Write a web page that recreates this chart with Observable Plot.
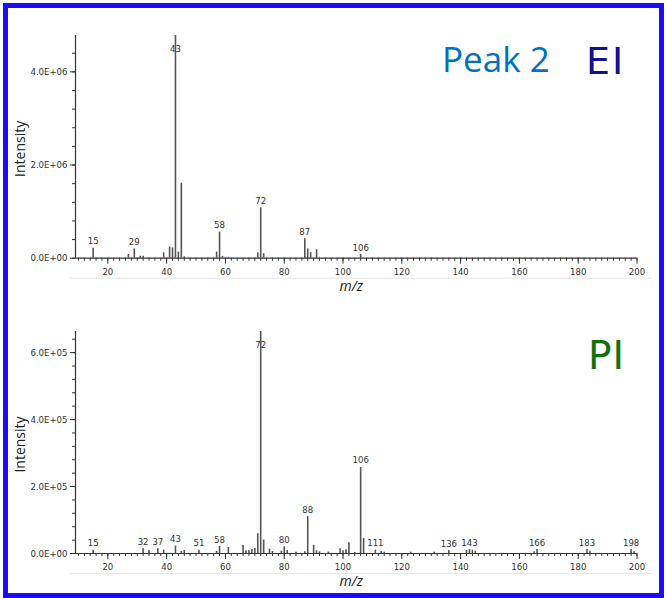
<!DOCTYPE html>
<html>
<head>
<meta charset="utf-8">
<script src="https://cdn.jsdelivr.net/npm/d3@7"></script>
<script src="https://cdn.jsdelivr.net/npm/@observablehq/plot@0.6"></script>
<style>
  html, body { margin: 0; padding: 0; background: white; }
  #wrap { position: relative; width: 667px; height: 598px; overflow: hidden; background: white; }
  .panel { position: absolute; left: 0; width: 667px; height: 300px; }
  #frame { position: absolute; left: 3px; top: 3px; width: 661px; height: 595px; box-sizing: border-box;
           border: 5px solid #1a0dff; z-index: 5; pointer-events: none; }
  .big { position: absolute; line-height: 1; white-space: pre; z-index: 4; }
</style>
</head>
<body>
<div id="wrap">
  <div id="frame"></div>
  <div id="top" class="panel" style="top:0"></div>
  <div id="bot" class="panel" style="top:300px"></div>
  <div class="big" style="left:442px; top:41px; font-size:35px; color:#0070c0; font-family:'Open Sans','Noto Sans',sans-serif;">Peak 2</div>
  <div class="big" style="left:586px; top:42px; font-size:38px; color:#12128c; font-family:'DejaVu Sans',sans-serif; letter-spacing:2px;">EI</div>
  <div class="big" style="left:588px; top:336px; font-size:39px; color:#107010; font-family:'DejaVu Sans',sans-serif; letter-spacing:1px;">PI</div>
</div>
<script>
// ---- EI spectrum (m/z, intensity) ----
const eiMz  = [15, 27, 29, 31, 32, 39, 41, 42, 43, 44, 45, 46, 57, 58, 59, 61, 71, 72, 73, 87, 88, 89, 91, 106];
const eiInt = [2.15e5, 8e4, 2.0e5, 4e4, 4e4, 1.15e5, 2.4e5, 2.2e5, 4.78e6, 1.3e5, 1.61e6, 3e4, 1.3e5, 5.6e5, 4e4, 2e4,
               1.15e5, 1.08e6, 9.5e4, 4.2e5, 2.0e5, 1.2e5, 1.8e5, 8e4];
const eiLabels = [15, 29, 43, 58, 72, 87, 106];
const eiYMax = 4.78e6;
const eiYTicks = [0, 2e6, 4e6];
const eiYMinor = [0, 4e5, 8e5, 1.2e6, 1.6e6, 2e6, 2.4e6, 2.8e6, 3.2e6, 3.6e6, 4e6, 4.4e6];

// ---- PI spectrum ----
const piMz  = [15, 32, 34, 37, 39, 43, 45, 46, 51, 57, 58, 61, 66, 67, 68, 69, 70, 71, 72, 73, 75, 76, 79, 80, 81, 84,
               87, 88, 90, 91, 92, 95, 99, 100, 101, 102, 104, 106, 107, 111, 113, 114, 123, 131, 136, 142, 143, 144,
               145, 165, 166, 183, 184, 198, 199];
const piInt = [1.0e4, 1.4e4, 9e3, 1.4e4, 1.0e4, 2.2e4, 6e3, 9e3, 1.0e4, 6e3, 2.1e4, 1.8e4, 2.4e4, 8e3, 9e3, 1.2e4, 1.5e4,
               5.9e4, 6.63e5, 4.0e4, 1.3e4, 6e3, 7e3, 2.0e4, 9e3, 4e3, 5e3, 1.1e5, 2.4e4, 8e3, 5e3, 4e3, 1.4e4, 8e3,
               1.1e4, 3.2e4, 3e3, 2.57e5, 4.5e4, 1.0e4, 6e3, 4e3, 4e3, 4e3, 9e3, 9e3, 1.2e4, 1.0e4, 7e3, 5e3, 1.2e4,
               1.2e4, 7e3, 1.2e4, 5e3];
const piLabels = [15, 32, 37, 43, 51, 58, 72, 80, 88, 106, 111, 136, 143, 166, 183, 198];
const piYMax = 6.63e5;
const piYTicks = [0, 2e5, 4e5, 6e5];
const piYMinor = [0, 4e4, 8e4, 1.2e5, 1.6e5, 2e5, 2.4e5, 2.8e5, 3.2e5, 3.6e5, 4e5, 4.4e5, 4.8e5, 5.2e5, 5.6e5, 6e5, 6.4e5];

// ---- shared axis ticks ----
const xDomain = [9, 200];
const xMajor = [20, 40, 60, 80, 100, 120, 140, 160, 180, 200];
const xMinor = d3.range(10, 201, 2);

function fmtE(d) {
  if (d === 0) return "0.0E+00";
  const [m, e] = d.toExponential(1).split("e");
  const n = Math.abs(+e);
  return m + "E" + (+e < 0 ? "-" : "+") + String(n).padStart(2, "0");
}

const smallFont = '"DejaVu Sans Condensed", "Liberation Sans Narrow", "DejaVu Sans", sans-serif';
const titleFont = '"Open Sans", "Noto Sans", sans-serif';

function spectrum({mz, inten, labels, yMax, yTicks, yMinor, marginTop, marginBottom}) {
  const data = mz.map((m, i) => ({mz: m, v: inten[i]}));
  const lab = data.filter(d => labels.includes(d.mz));
  const labNormal = lab.filter(d => d.v < yMax);
  const labTop = lab.filter(d => d.v >= yMax);
  return Plot.plot({
    width: 667, height: 300,
    marginLeft: 75, marginRight: 30.5, marginTop, marginBottom,
    x: {domain: xDomain, axis: null},
    y: {domain: [0, yMax], axis: null},
    style: {background: "transparent", fontFamily: smallFont, fontSize: "9.5px", color: "#333", overflow: "visible"},
    marks: [
      // light separator under the axis
      Plot.ruleY([0], {x1: 7.3, x2: 205.3, dy: 20, stroke: "#e6e6e6", strokeWidth: 1}),
      // peaks
      Plot.ruleX(data, {x: "mz", y1: 0, y2: "v", stroke: "#555", strokeWidth: 1.6}),
      // x axis
      Plot.axisX(xMinor, {anchor: "bottom", tickSize: 3, text: null, label: null, stroke: "#333"}),
      Plot.axisX(xMajor, {anchor: "bottom", tickSize: 6, tickPadding: 4, stroke: "#333", fill: "#333", label: null, fontSize: 9.5}),
      // y axis
      Plot.axisY(yMinor, {anchor: "left", tickSize: 3, text: null, label: null, stroke: "#333"}),
      Plot.axisY(yTicks, {anchor: "left", tickSize: 5, tickPadding: 3, tickFormat: fmtE, stroke: "#333", fill: "#333", label: null, fontSize: 9.5}),
      Plot.ruleX([9], {stroke: "#333", strokeWidth: 1.2}),
      Plot.ruleY([0], {stroke: "#333", strokeWidth: 1.2}),
      // peak labels
      Plot.text(labNormal, {x: "mz", y: "v", text: d => String(d.mz), dy: -7, fill: "#333", fontSize: 9.5}),
      Plot.text(labTop, {x: "mz", y: "v", text: d => String(d.mz), dy: 13, fill: "#333", fontSize: 9.5}),
      // axis titles
      Plot.text(["m/z"], {frameAnchor: "bottom", textAnchor: "middle", lineAnchor: "middle", dx: -5, dy: 28,
                          fontFamily: titleFont, fontStyle: "italic", fontSize: 14, fill: "#222"}),
      Plot.text(["Intensity"], {frameAnchor: "left", textAnchor: "middle", lineAnchor: "middle", rotate: -90, dx: -55, dy: 2,
                                fontFamily: titleFont, fontSize: 14, fill: "#222"})
    ]
  });
}

document.getElementById("top").append(spectrum({
  mz: eiMz, inten: eiInt, labels: eiLabels, yMax: eiYMax, yTicks: eiYTicks, yMinor: eiYMinor,
  marginTop: 35, marginBottom: 42.3
}));
document.getElementById("bot").append(spectrum({
  mz: piMz, inten: piInt, labels: piLabels, yMax: piYMax, yTicks: piYTicks, yMinor: piYMinor,
  marginTop: 31, marginBottom: 47
}));
</script>
</body>
</html>
